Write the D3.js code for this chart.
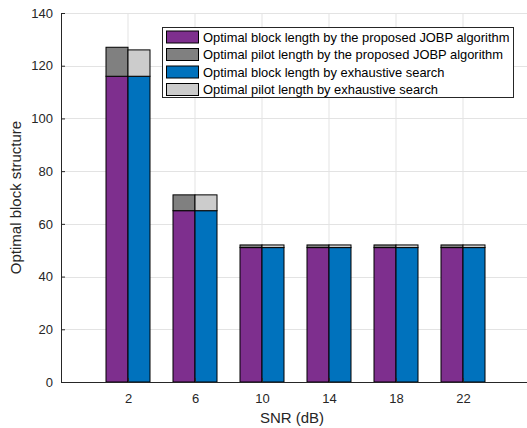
<!DOCTYPE html>
<html><head><meta charset="utf-8">
<script src="https://cdn.jsdelivr.net/npm/d3@7"></script>
<style>body{margin:0;background:#fff;} svg{display:block;font-family:"Liberation Sans",Arial,sans-serif;}</style>
</head><body>
<script>
const categories = ["2","6","10","14","18","22"];
const jobpBlock = [116,65,51,51,51,51];
const jobpPilot = [11,6,1,1,1,1];
const exhBlock = [116,65,51,51,51,51];
const exhPilot = [10,6,1,1,1,1];
const yTicks = [0,20,40,60,80,100,120,140];
const legendLabels = ["Optimal block length by the proposed JOBP algorithm","Optimal pilot length by the proposed JOBP algorithm","Optimal block length by exhaustive search","Optimal pilot length by exhaustive search"];
const colors = ["#7E2F8E","#808080","#0072BD","#CCCCCC"];

(function(){
const W=527,H=428;
const svg=d3.select("body").append("svg").attr("width",W).attr("height",H);
const mLeft=61, mTop=13, mBottom=382, step=67;
const x=d3.scaleLinear().domain([0,7]).range([mLeft,mLeft+step*7]);
const y=d3.scaleLinear().domain([0,140]).range([mBottom,mTop]);
const bw=22;

// grid
svg.append("g").selectAll("line").data(yTicks).join("line")
  .attr("x1",mLeft).attr("x2",mLeft+step*7).attr("y1",d=>Math.round(y(d))+0.5).attr("y2",d=>Math.round(y(d))+0.5)
  .attr("stroke","#e3e3e3").attr("stroke-width",1);
svg.append("g").selectAll("line").data(categories).join("line")
  .attr("x1",(d,i)=>x(i+1)).attr("x2",(d,i)=>x(i+1)).attr("y1",mTop).attr("y2",mBottom)
  .attr("stroke","#e3e3e3").attr("stroke-width",1);

// bars
const g=svg.append("g");
function stack(block,pilot,offset,cB,cP){
  categories.forEach((c,i)=>{
    const cx=x(i+1)+offset;
    g.append("rect").attr("x",cx).attr("width",bw).attr("y",y(block[i])).attr("height",y(0)-y(block[i]))
      .attr("fill",cB).attr("stroke","#000").attr("stroke-width",1);
    g.append("rect").attr("x",cx).attr("width",bw).attr("y",y(block[i]+pilot[i])).attr("height",y(block[i])-y(block[i]+pilot[i]))
      .attr("fill",cP).attr("stroke","#000").attr("stroke-width",1);
  });
}
stack(jobpBlock,jobpPilot,-bw,colors[0],colors[1]);
stack(exhBlock,exhPilot,0,colors[2],colors[3]);

// axes
const ya=svg.append("g").attr("transform",`translate(${mLeft},0)`)
  .call(d3.axisLeft(y).tickValues(yTicks).tickSize(-4).tickPadding(8));
const xa=svg.append("g").attr("transform",`translate(0,${mBottom})`)
  .call(d3.axisBottom(x).tickValues(d3.range(1,7)).tickFormat(i=>categories[i-1]).tickSize(-4).tickPadding(12));
[ya,xa].forEach(a=>{
  a.selectAll("path").attr("stroke","#262626").attr("stroke-width",1);
  a.selectAll("line").attr("stroke","#262626");
  a.selectAll("text").attr("fill","#262626").attr("font-size",13).attr("font-family","Liberation Sans, Arial, sans-serif");
});
svg.append("text").attr("x",292).attr("y",423).attr("text-anchor","middle")
  .attr("font-size",15).attr("fill","#262626").text("SNR (dB)");
svg.append("text").attr("transform",`translate(21,${(mTop+mBottom)/2}) rotate(-90)`).attr("text-anchor","middle")
  .attr("font-size",15).attr("fill","#262626").text("Optimal block structure");

// legend
const lg=svg.append("g");
lg.append("rect").attr("x",162.5).attr("y",27.5).attr("width",351).attr("height",70)
  .attr("fill","#fff").attr("stroke","#262626").attr("stroke-width",1);
legendLabels.forEach((t,i)=>{
  const cy=37+i*17.5;
  lg.append("rect").attr("x",166.5).attr("y",cy-6).attr("width",32).attr("height",12)
    .attr("fill",colors[i]).attr("stroke","#000").attr("stroke-width",1);
  lg.append("text").attr("x",203).attr("y",cy+4.5).attr("font-size",12.9).attr("fill","#000").text(t);
});
})();
</script>
</body></html>
